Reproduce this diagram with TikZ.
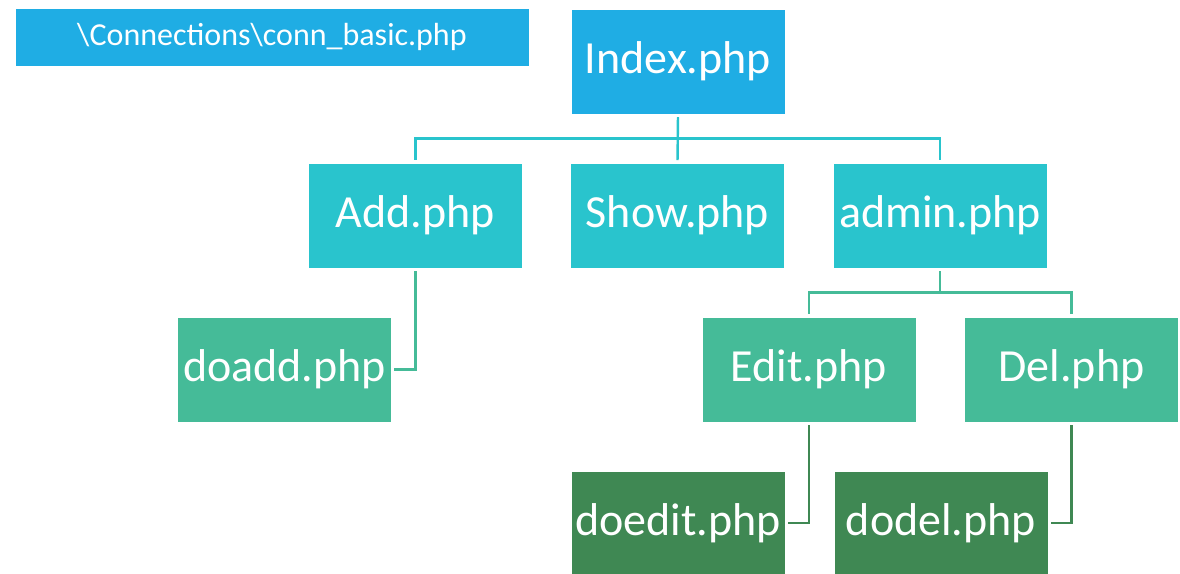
\documentclass[tikz,border=0pt]{standalone}
\usepackage{fontspec}
\setmainfont{Carlito}
\definecolor{cblue}{HTML}{1FADE4}
\definecolor{cteal}{HTML}{29C4CD}
\definecolor{cgreen}{HTML}{45BB98}
\definecolor{cdark}{HTML}{3F8853}
\begin{document}
\begin{tikzpicture}[x=1pt,y=1pt,
  box/.style={rectangle,draw=white,line width=0.6pt,text=white,inner sep=0pt,
    minimum width=214pt,minimum height=105pt,font=\fontsize{46}{50}\selectfont},
  lvl1/.style={box,fill=cblue},
  lvl2/.style={box,fill=cteal},
  lvl3/.style={box,fill=cgreen},
  lvl4/.style={box,fill=cdark},
  conn/.style={line width=2.4pt,shorten <=3pt,shorten >=2.5pt}]
\useasboundingbox (0,0) rectangle (1180,-573);
\node[box,fill=cblue,minimum width=514pt,minimum height=58pt,font=\fontsize{32}{36}\selectfont] (cb) at (272,-37) {\textbackslash Connections\textbackslash conn\_basic.php};
\node[lvl1] (index) at (678,-61.5) {Index.php};
\node[lvl2] (add) at (415.5,-215.5) {Add.php};
\node[lvl2] (show) at (677.5,-215.5) {Show.php};
\node[lvl2] (admin) at (940,-215.5) {admin.php};
\node[lvl3] (doadd) at (284.5,-369.5) {doadd.php};
\node[lvl3] (edit) at (809,-369.5) {Edit.php};
\node[lvl3] (del) at (1071.5,-369.5) {Del.php};
\node[lvl4,minimum height=104pt] (doedit) at (678,-523) {doedit.php};
\node[lvl4,minimum height=104pt] (dodel) at (941,-523) {dodel.php};
\draw[conn,cteal] (index.south) -- ++(0,-24) -| (add.north);
\draw[conn,cteal] (index.south) -- ++(0,-24) -| (admin.north);
\draw[conn,cteal] (index.south) -- (show.north);
\draw[conn,cgreen] (add.south) |- (doadd.east);
\draw[conn,cgreen] (admin.south) -- ++(0,-24) -| (edit.north);
\draw[conn,cgreen] (admin.south) -- ++(0,-24) -| (del.north);
\draw[conn,cdark] (edit.south) |- (doedit.east);
\draw[conn,cdark] (del.south) |- (dodel.east);
\end{tikzpicture}
\end{document}
